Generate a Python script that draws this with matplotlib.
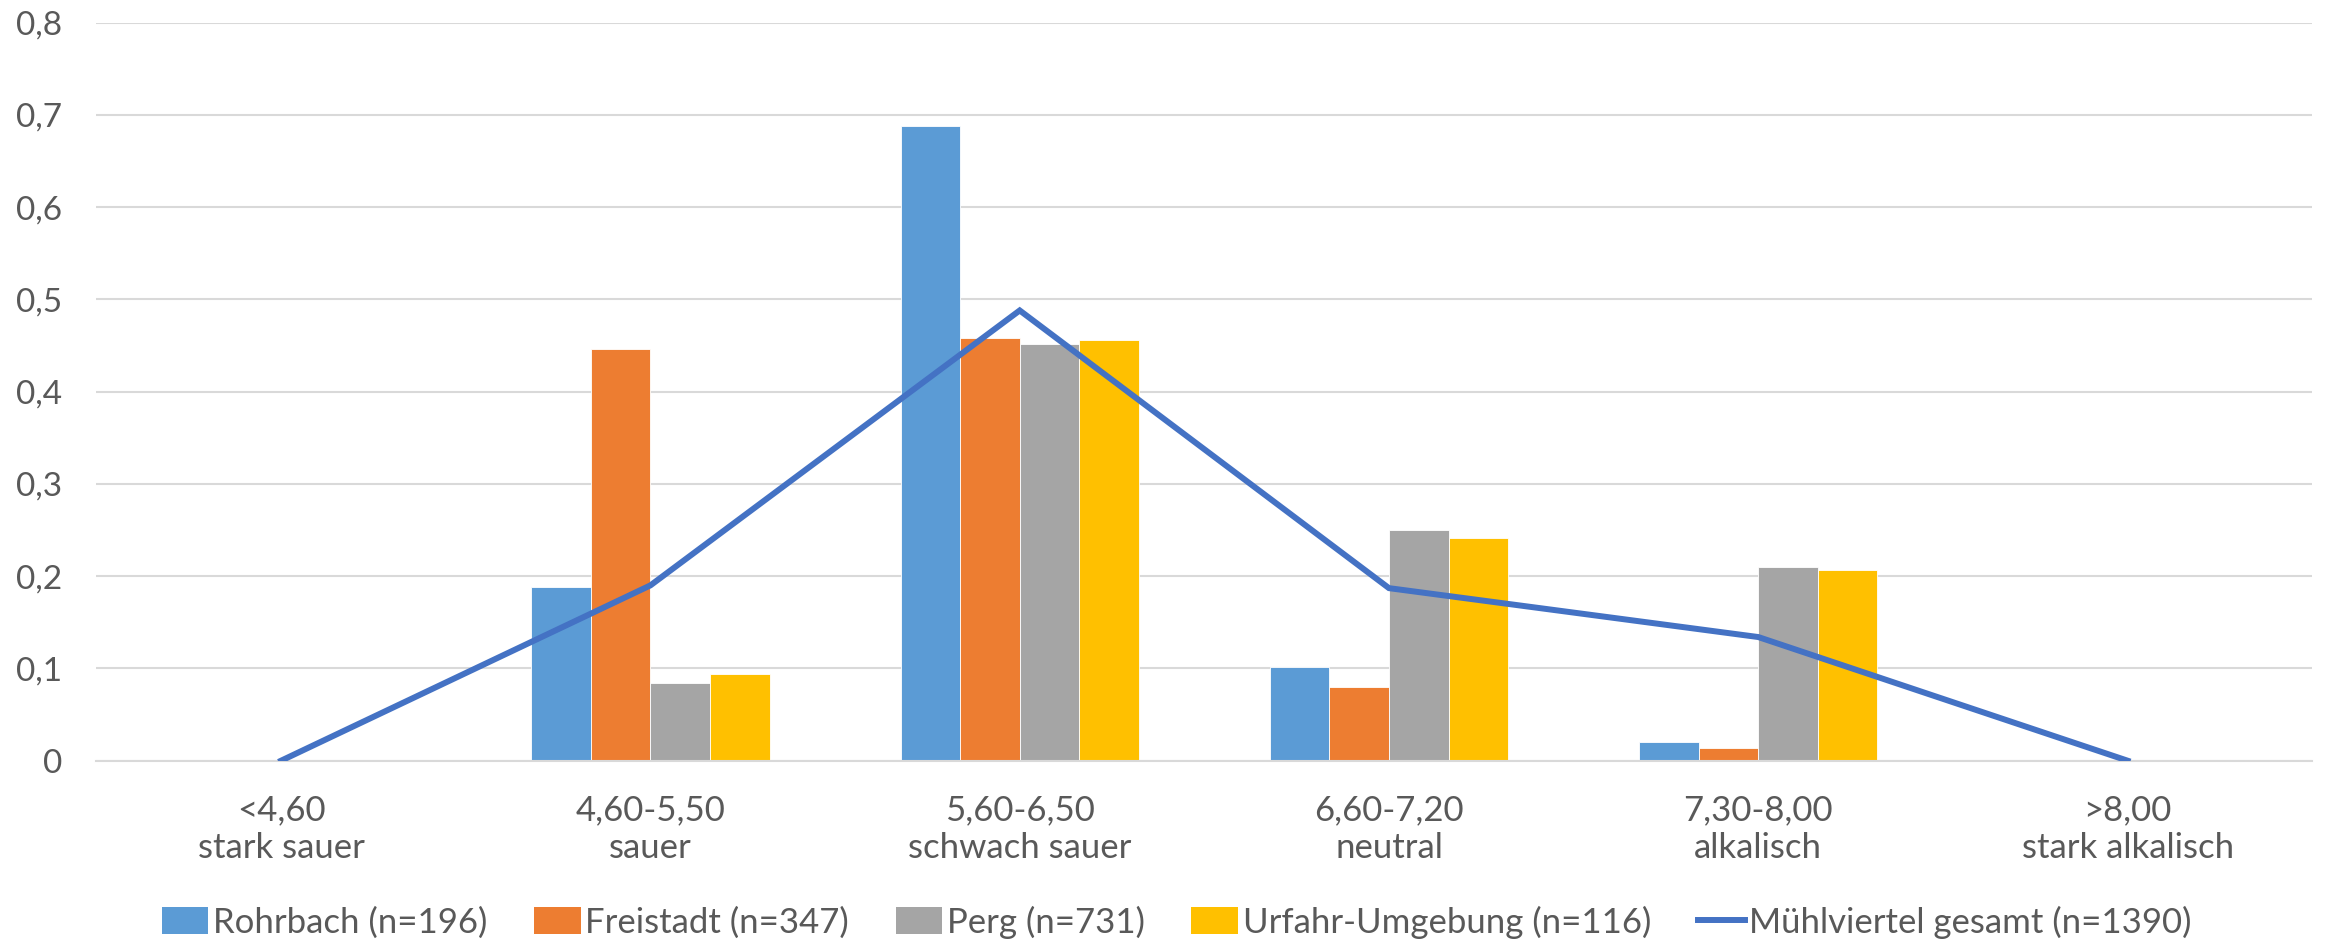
import numpy as np
import matplotlib
matplotlib.use('Agg')
import matplotlib.pyplot as plt
from matplotlib.ticker import FuncFormatter
from matplotlib.patches import Patch
from matplotlib.lines import Line2D

# pH classes with their descriptions
categories = ['<4,60\nstark sauer', '4,60-5,50\nsauer', '5,60-6,50\nschwach sauer',
              '6,60-7,20\nneutral', '7,30-8,00\nalkalisch', '>8,00\nstark alkalisch']

rohrbach = [0.0, 0.188, 0.688, 0.102, 0.020, 0.0]
freistadt = [0.0, 0.446, 0.458, 0.080, 0.014, 0.0]
perg = [0.001, 0.084, 0.452, 0.250, 0.210, 0.0]
urfahr = [0.0, 0.094, 0.456, 0.241, 0.207, 0.0]
gesamt = [0.0, 0.190, 0.488, 0.187, 0.134, 0.0]

series_names = ['Rohrbach (n=196)', 'Freistadt (n=347)', 'Perg (n=731)',
                'Urfahr-Umgebung (n=116)']
line_name = 'Mühlviertel gesamt (n=1390)'

BAR_COLORS = ['#5B9BD5', '#ED7D31', '#A5A5A5', '#FFC000']
LINE_COLOR = '#4472C4'
TEXT_COLOR = '#595959'
GRID_COLOR = '#D9D9D9'
FONT_SIZE = 24


def comma_fmt(v, pos):
    if abs(v) < 1e-9:
        return '0'
    return ('%.1f' % v).replace('.', ',')


plt.rcParams['font.family'] = ['Lato', 'DejaVu Sans']

fig = plt.figure(figsize=(23.25, 9.42), dpi=100)
ax = fig.add_axes([0.0415, 0.1925, 0.953, 0.7835])

x = np.arange(len(categories))
width = 0.1613
for i, vals in enumerate([rohrbach, freistadt, perg, urfahr]):
    ax.bar(x + (i - 1.5) * width, vals, width, color=BAR_COLORS[i],
           edgecolor='white', linewidth=0.6, zorder=2)
ax.plot(x, gesamt, color=LINE_COLOR, linewidth=4.3, zorder=3,
        solid_joinstyle='miter')

ax.set_xlim(-0.5, len(categories) - 0.5)
ax.set_ylim(0, 0.8)
ax.set_yticks(np.arange(0, 0.81, 0.1))
ax.yaxis.set_major_formatter(FuncFormatter(comma_fmt))
ax.set_xticks(x)
ax.set_xticklabels(categories, linespacing=1.25, fontsize=FONT_SIZE + 1)
ax.tick_params(axis='y', length=0, pad=25, labelsize=FONT_SIZE, labelcolor=TEXT_COLOR)
ax.tick_params(axis='x', length=0, pad=24, labelcolor=TEXT_COLOR)

ax.grid(axis='y', color=GRID_COLOR, linewidth=1.5, zorder=0)
ax.set_axisbelow(True)
for side in ['top', 'right', 'left']:
    ax.spines[side].set_visible(False)
ax.spines['bottom'].set_color(GRID_COLOR)
ax.spines['bottom'].set_linewidth(1.5)

# legend at the bottom
handles = [Patch(facecolor=c, edgecolor='none') for c in BAR_COLORS]
handles.append(Line2D([0], [0], color=LINE_COLOR, linewidth=4.3))
fig.legend(handles, series_names + [line_name], loc='center',
           bbox_to_anchor=(0.506, 0.021), ncol=5, frameon=False,
           fontsize=FONT_SIZE + 1, labelcolor=TEXT_COLOR, handlelength=1.35,
           handleheight=0.8, handletextpad=0.12, columnspacing=1.35)

plt.savefig('out.png', dpi=100)
